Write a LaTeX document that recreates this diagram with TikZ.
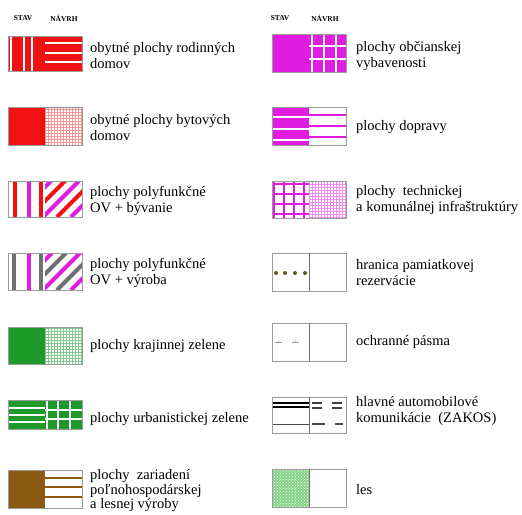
\documentclass[tikz,border=0pt]{standalone}
\usepackage{fontspec}
\setmainfont{Liberation Serif}
\usetikzlibrary{patterns}
\definecolor{rd}{HTML}{F01212}
\definecolor{mg}{HTML}{E01CE0}
\definecolor{gn}{HTML}{1E9A2A}
\definecolor{br}{HTML}{8A5A14}
\definecolor{gy}{HTML}{707070}
\definecolor{frame}{HTML}{9C9C9C}
\definecolor{olive}{HTML}{5E5A1E}
\definecolor{lesgn}{HTML}{86D486}

\begin{document}
\begin{tikzpicture}[x=1pt, y=-1pt, every node/.style={font=\fontsize{14.5}{16}\selectfont},
  lbl/.style={anchor=west, align=left, inner sep=0pt},
  hdr/.style={font=\fontsize{7.5}{8}\selectfont\bfseries, inner sep=0pt},
  box/.style={draw=frame, line width=0.9pt},
  divider/.style={draw=gy, line width=0.7pt}]
\useasboundingbox (0,0) rectangle (522,514);

% headers
\node[hdr] (stavL) at (23,18) {STAV};
\node[hdr] (navrhL) at (64,18) {NÁVRH};
\node[hdr] (stavR) at (280,18) {STAV};
\node[hdr] (navrhR) at (325,18) {NÁVRH};

% left column
\fill[rd] (8,36) rectangle (82,71);
\foreach \x in {11,24,32} \draw[white, line width=1.5pt] (\x,36) -- (\x,71);
\foreach \y in {43,53,62} \draw[white, line width=2.5pt] (45,\y) -- (82,\y);
\draw[box] (8,36) rectangle (82,71);

\fill[rd] (8,107) rectangle (45,145);
\fill[pattern=grid, pattern color=rd!45] (45,107) rectangle (82,145);
\draw[box] (8,107) rectangle (82,145);

\foreach \x/\c in {15/rd,29/mg,41/rd} \draw[\c, line width=4pt] (\x,181) -- (\x,217);
\begin{scope}
  \clip (45,181) rectangle (82,217);
  \foreach \k/\c in {-30/mg,-16/rd,-2/mg,12/rd,26/mg}
    \draw[\c, line width=4pt] (45+\k,217) -- (81+\k,181);
\end{scope}
\draw[box] (8,181) rectangle (82,217);

\foreach \x/\c in {14/gy,29/mg,41/gy} \draw[\c, line width=4pt] (\x,253) -- (\x,290);
\begin{scope}
  \clip (45,253) rectangle (82,290);
  \foreach \k/\c in {-30/mg,-16/gy,-2/mg,12/gy,26/mg}
    \draw[\c, line width=4pt] (45+\k,290) -- (82+\k,253);
\end{scope}
\draw[box] (8,253) rectangle (82,290);

\fill[gn] (8,327) rectangle (45,364);
\fill[pattern=grid, pattern color=gn!55] (45,327) rectangle (82,364);
\draw[box] (8,327) rectangle (82,364);

\fill[gn] (8,400) rectangle (82,429);
\foreach \y in {408,415,422} \draw[white, line width=1.5pt] (8,\y) -- (45,\y);
\foreach \x in {47,58,70} \draw[white, line width=2pt] (\x,400) -- (\x,429);
\foreach \y in {410,419} \draw[white, line width=2pt] (45,\y) -- (82,\y);
\draw[box] (8,400) rectangle (82,429);

\fill[br] (8,470) rectangle (45,508);
\foreach \y in {478,487,497} \draw[br, line width=2pt] (45,\y) -- (82,\y);
\draw[box] (8,470) rectangle (82,508);

% right column
\fill[mg] (272,34) rectangle (346,72);
\foreach \x in {312,324,336} \draw[white, line width=2.5pt] (\x,34) -- (\x,72);
\foreach \y in {46,59} \draw[white, line width=2.5pt] (309,\y) -- (346,\y);
\draw[box] (272,34) rectangle (346,72);

\fill[mg] (272,107) rectangle (309,145);
\foreach \y in {117,129,140} \draw[white, line width=1.2pt] (272,\y) -- (309,\y);
\foreach \y in {115,126,137} \draw[mg, line width=2.5pt] (309,\y) -- (346,\y);
\draw[box] (272,107) rectangle (346,145);

\foreach \x in {274,284,294,304} \draw[mg, line width=2.5pt] (\x,181) -- (\x,218);
\foreach \y in {184,194,204,214} \draw[mg, line width=2.5pt] (272,\y) -- (309,\y);
\fill[pattern=grid, pattern color=mg!50] (309,181) rectangle (346,218);
\draw[box] (272,181) rectangle (346,218);

\foreach \x in {276,285,295,305} \fill[olive] (\x,273) circle (2pt);
\draw[box] (272,253) rectangle (346,291);
\draw[divider] (309,253) -- (309,291);

\foreach \x in {275,292} {
  \draw[gray!80, line width=0.5pt] (\x,342) -- (\x+7,342);
  \fill[gray!80] (\x+3.5,341.2) circle (0.6pt);
}
\draw[box] (272,323) rectangle (346,361);
\draw[divider] (309,323) -- (309,361);

\foreach \y in {403,407} \draw[black, line width=1.6pt] (272,\y) -- (309,\y);
\draw[black!70, line width=1pt] (272,424) -- (309,424);
\foreach \y in {403,408} \draw[black!75, line width=1.2pt] (312,\y) -- (322,\y) (332,\y) -- (342,\y);
\draw[black!70, line width=1.2pt] (312,424) -- (325,424) (335,424) -- (343,424);
\draw[box] (272,397) rectangle (346,433);
\draw[divider] (309,397) -- (309,433);

\fill[lesgn] (272,469) rectangle (309,507);
\fill[pattern=crosshatch dots, pattern color=white] (272,469) rectangle (309,507);
\draw[box] (272,469) rectangle (346,507);
\draw[divider] (309,469) -- (309,507);

% labels
\node[lbl] (l1) at (90,56) {obytné plochy rodinných\\domov};
\node[lbl] (l2) at (90,128) {obytné plochy bytových\\domov};
\node[lbl] (l3) at (90,201) {plochy polyfunkčné\\OV + bývanie};
\node[lbl] (l4) at (90,273) {plochy polyfunkčné\\OV + výroba};
\node[lbl] (l5) at (90,346) {plochy krajinnej zelene};
\node[lbl] (l6) at (90,419) {plochy urbanistickej zelene};
\node[lbl, font=\fontsize{14.5}{14.5}\selectfont] (l7) at (90,491) {plochy\ \ zariadení\\poľnohospodárskej\\a lesnej výroby};
\node[lbl] (r1) at (356,56) {plochy občianskej\\vybavenosti};
\node[lbl] (r2) at (356,127) {plochy dopravy};
\node[lbl] (r3) at (356,200) {plochy\ \ technickej\\a komunálnej infraštruktúry};
\node[lbl] (r4) at (356,273) {hranica pamiatkovej\\rezervácie};
\node[lbl] (r5) at (356,342) {ochranné pásma};
\node[lbl] (r6) at (356,411) {hlavné automobilové\\komunikácie\ \ (ZAKOS)};
\node[lbl] (r7) at (356,490) {les};
\end{tikzpicture}
\end{document}
